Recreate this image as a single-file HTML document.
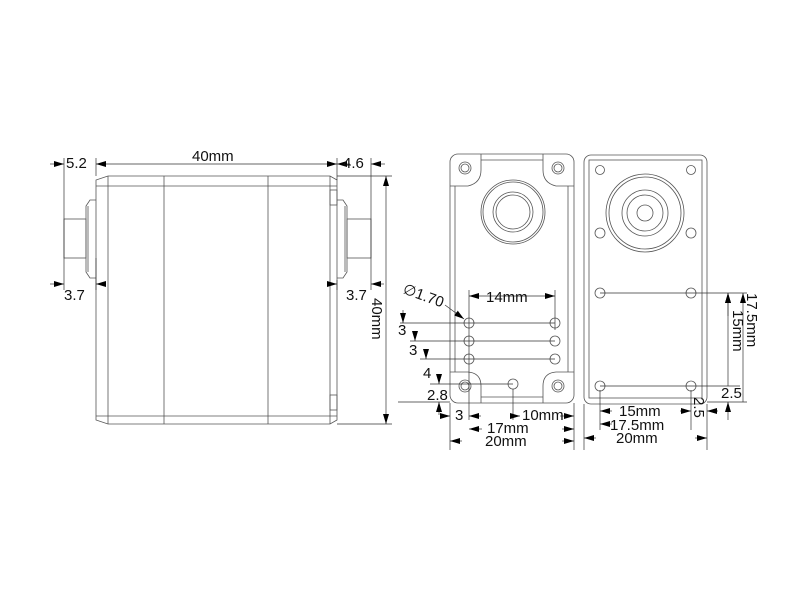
<!DOCTYPE html>
<html><head><meta charset="utf-8"><style>body{margin:0;background:#fff}svg{display:block}text{font-family:"Liberation Sans",sans-serif;fill:#111}</style></head><body>
<svg width="800" height="600" viewBox="0 0 800 600" xmlns="http://www.w3.org/2000/svg">
<defs><marker id="a" viewBox="0 0 10 6" refX="10" refY="3" markerWidth="10" markerHeight="6" orient="auto-start-reverse" markerUnits="userSpaceOnUse"><path d="M0,0L10,3L0,6z" fill="#000"/></marker></defs>
<g fill="none" stroke="#555" stroke-width="0.8">
<path d="M108,176H330L337,180V420L330,424H108L96,420V180Z"/>
<line x1="96" y1="186" x2="337" y2="186"/><line x1="96" y1="416" x2="337" y2="416"/>
<line x1="108" y1="176" x2="108" y2="424"/><line x1="164" y1="176" x2="164" y2="424"/><line x1="268" y1="176" x2="268" y2="424"/><line x1="330" y1="176" x2="330" y2="424"/>
<rect x="330" y="190" width="7" height="15"/><rect x="330" y="395" width="7" height="15"/>
<path d="M96,200H90L86,206V272L90,278H96"/><line x1="88" y1="206" x2="88" y2="272"/>
<rect x="64" y="219" width="22" height="39"/>
<path d="M337,200H343L347,206V272L343,278H337"/><line x1="345" y1="206" x2="345" y2="272"/>
<rect x="347" y="219" width="24" height="39"/>
<rect x="450" y="154" width="124" height="249" rx="8"/>
<line x1="455" y1="186" x2="455" y2="372"/><line x1="568" y1="186" x2="568" y2="372"/>
<path d="M481,154V170Q481,183 468,186H450"/><path d="M543,154V170Q543,183 556,186H574"/>
<path d="M481,160H543"/>
<path d="M450,372H468Q481,373 481,386V403"/><path d="M574,372H556Q543,373 543,386V403"/>
<path d="M481,397H543"/>
<circle cx="465" cy="168" r="6"/><circle cx="465" cy="168" r="4"/><circle cx="558" cy="168" r="6"/><circle cx="558" cy="168" r="4"/>
<circle cx="465" cy="386" r="6"/><circle cx="465" cy="386" r="4"/><circle cx="558" cy="386" r="6"/><circle cx="558" cy="386" r="4"/>
<circle cx="513" cy="212" r="32"/><circle cx="513" cy="212" r="30"/><circle cx="513" cy="212" r="20"/><circle cx="513" cy="212" r="17"/>
<circle cx="469" cy="323" r="5"/><circle cx="469" cy="341" r="5"/><circle cx="469" cy="359" r="5"/>
<circle cx="555" cy="323" r="5"/><circle cx="555" cy="341" r="5"/><circle cx="555" cy="359" r="5"/>
<circle cx="513" cy="384" r="5"/>
<rect x="584" y="155" width="123" height="249" rx="7"/>
<rect x="589" y="160" width="113" height="238"/>
<circle cx="600" cy="170" r="4.5"/><circle cx="691" cy="170" r="4.5"/><circle cx="600" cy="233" r="5"/><circle cx="691" cy="233" r="5"/>
<circle cx="600" cy="293" r="5"/><circle cx="691" cy="293" r="5"/><circle cx="600" cy="386" r="5"/><circle cx="691" cy="386" r="5"/>
<circle cx="645" cy="213" r="39"/><circle cx="645" cy="213" r="36"/><circle cx="645" cy="213" r="23"/><circle cx="645" cy="213" r="18"/><circle cx="645" cy="213" r="8"/>
</g>
<g stroke="#333" stroke-width="0.7" fill="none">
<line x1="64" y1="158" x2="64" y2="290"/><line x1="96" y1="158" x2="96" y2="176"/><line x1="96" y1="258" x2="96" y2="290"/>
<line x1="337" y1="158" x2="337" y2="180"/><line x1="371" y1="158" x2="371" y2="290"/><line x1="337" y1="280" x2="337" y2="290"/>
<line x1="337" y1="176" x2="392" y2="176"/><line x1="337" y1="424" x2="392" y2="424"/>
<line x1="96" y1="164" x2="337" y2="164" marker-start="url(#a)" marker-end="url(#a)"/>
<line x1="50" y1="164" x2="64" y2="164" marker-end="url(#a)"/><line x1="350" y1="164" x2="337" y2="164" marker-end="url(#a)"/>
<line x1="385" y1="164" x2="371" y2="164" marker-end="url(#a)"/>
<line x1="50" y1="284" x2="64" y2="284" marker-end="url(#a)"/><line x1="105" y1="284" x2="96" y2="284" marker-end="url(#a)"/>
<line x1="327" y1="284" x2="337" y2="284" marker-end="url(#a)"/><line x1="384" y1="284" x2="371" y2="284" marker-end="url(#a)"/>
<line x1="386" y1="176" x2="386" y2="424" marker-start="url(#a)" marker-end="url(#a)"/>
<line x1="469" y1="290" x2="469" y2="420"/><line x1="555" y1="290" x2="555" y2="330"/>
<line x1="469" y1="296" x2="555" y2="296" marker-start="url(#a)" marker-end="url(#a)"/>
<line x1="400" y1="323" x2="555" y2="323"/><line x1="410" y1="341" x2="555" y2="341"/><line x1="420" y1="359" x2="555" y2="359"/>
<line x1="430" y1="384" x2="513" y2="384"/><line x1="398" y1="402" x2="450" y2="402"/>
<line x1="445" y1="305" x2="464" y2="319" marker-end="url(#a)"/>
<line x1="403" y1="310" x2="403" y2="323" marker-end="url(#a)"/>
<line x1="415" y1="332" x2="415" y2="341" marker-end="url(#a)"/><line x1="426" y1="350" x2="426" y2="359" marker-end="url(#a)"/>
<line x1="439" y1="375" x2="439" y2="384" marker-end="url(#a)"/><line x1="439" y1="415" x2="439" y2="402" marker-end="url(#a)"/>
<line x1="450" y1="403" x2="450" y2="450"/><line x1="574" y1="403" x2="574" y2="450"/><line x1="513" y1="389" x2="513" y2="420"/>
<line x1="442" y1="416" x2="450" y2="416" marker-end="url(#a)"/><line x1="481" y1="416" x2="469" y2="416" marker-end="url(#a)"/>
<line x1="520" y1="416" x2="513" y2="416" marker-start="url(#a)"/><line x1="560" y1="416" x2="574" y2="416" marker-end="url(#a)"/>
<line x1="482" y1="429" x2="469" y2="429" marker-end="url(#a)"/><line x1="562" y1="429" x2="574" y2="429" marker-end="url(#a)"/>
<line x1="462" y1="441" x2="450" y2="441" marker-end="url(#a)"/><line x1="562" y1="441" x2="574" y2="441" marker-end="url(#a)"/>
<line x1="600" y1="293" x2="747" y2="293"/><line x1="600" y1="386" x2="740" y2="386"/><line x1="707" y1="402" x2="747" y2="402"/>
<line x1="728" y1="386" x2="728" y2="293" marker-end="url(#a)"/><line x1="728" y1="316" x2="728" y2="293" marker-end="url(#a)"/>
<line x1="743" y1="402" x2="743" y2="293" marker-end="url(#a)"/>
<line x1="728" y1="420" x2="728" y2="402" marker-end="url(#a)"/>
<line x1="600" y1="390" x2="600" y2="430"/><line x1="691" y1="390" x2="691" y2="430"/><line x1="584" y1="404" x2="584" y2="450"/><line x1="707" y1="404" x2="707" y2="450"/>
<line x1="612" y1="411" x2="600" y2="411" marker-end="url(#a)"/><line x1="680" y1="411" x2="691" y2="411" marker-end="url(#a)"/>
<line x1="718" y1="411" x2="707" y2="411" marker-end="url(#a)"/>
<line x1="612" y1="424" x2="600" y2="424" marker-end="url(#a)"/>
<line x1="596" y1="438" x2="584" y2="438" marker-end="url(#a)"/><line x1="695" y1="438" x2="707" y2="438" marker-end="url(#a)"/>
</g>
<g font-size="15">
<text x="66" y="168">5.2</text><text x="192" y="161">40mm</text><text x="343" y="168">4.6</text>
<text x="64" y="300">3.7</text><text x="346" y="300">3.7</text>
<text transform="translate(372,298) rotate(90)">40mm</text>
<text x="486" y="302">14mm</text>
<text transform="translate(402,293) rotate(20)">∅1.70</text>
<text x="398" y="335">3</text><text x="409" y="355">3</text><text x="423" y="378">4</text><text x="427" y="400">2.8</text>
<text x="455" y="420">3</text><text x="522" y="420">10mm</text><text x="487" y="433">17mm</text><text x="485" y="446">20mm</text>
<text x="619" y="416">15mm</text><text x="610" y="430">17.5mm</text><text x="616" y="443">20mm</text>
<text transform="translate(747,293) rotate(90)">17.5mm</text>
<text transform="translate(733,310) rotate(90)">15mm</text>
<text x="721" y="398">2.5</text>
<text transform="translate(694,397) rotate(90)">2.5</text>
</g>
</svg>
</body></html>
